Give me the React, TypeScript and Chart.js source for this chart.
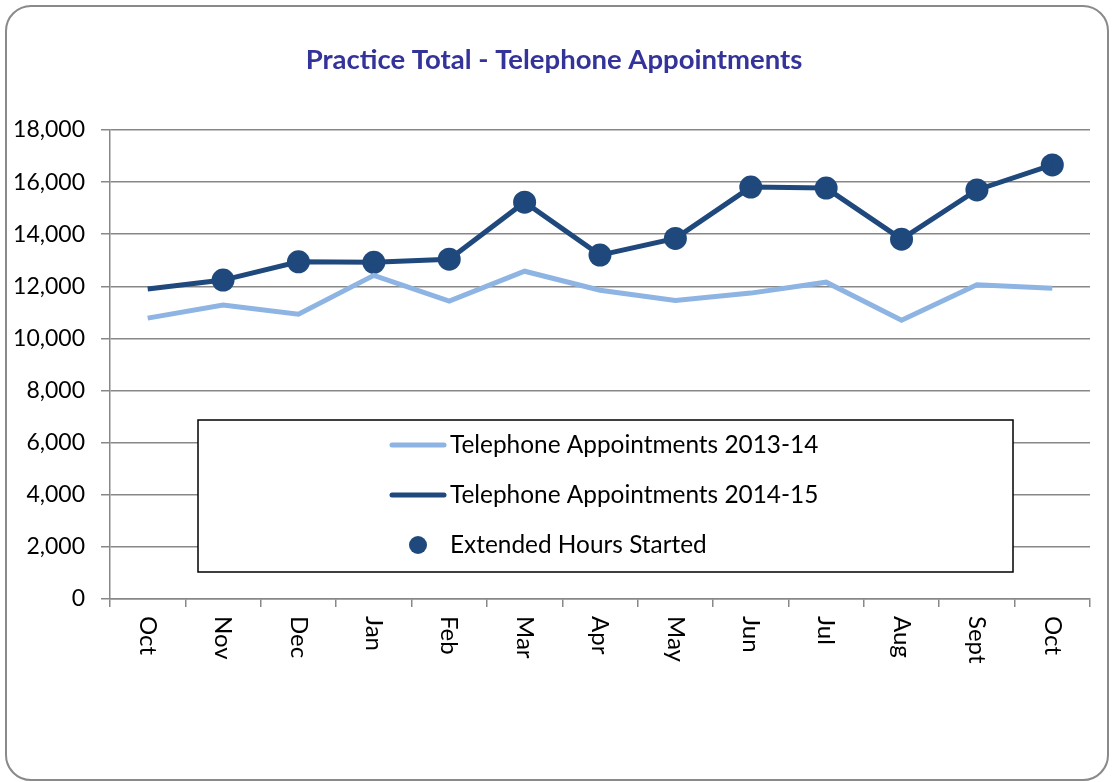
import React, { useEffect, useRef } from "react";
import { Chart, registerables } from "chart.js";

Chart.register(...registerables);

const chartTitle = "Practice Total - Telephone Appointments";
const categories = ["Oct", "Nov", "Dec", "Jan", "Feb", "Mar", "Apr", "May", "Jun", "Jul", "Aug", "Sept", "Oct"];
const appointments2013 = [10780, 11280, 10930, 12420, 11430, 12580, 11850, 11460, 11740, 12160, 10700, 12060, 11930];
const appointments2014 = [11900, 12240, 12940, 12920, 13040, 15230, 13200, 13840, 15810, 15770, 13810, 15700, 16660];
const extendedHours = [null, 12240, 12940, 12920, 13040, 15230, 13200, 13840, 15810, 15770, 13810, 15700, 16660];
const seriesNames = ["Telephone Appointments 2013-14", "Telephone Appointments 2014-15", "Extended Hours Started"];
const yMin = 0;
const yMax = 18000;
const yStep = 2000;

const LIGHT = "#8DB4E2";
const DARK = "#1F497D";
const GRID = "#888888";
const FONT = "Lato, 'Open Sans', sans-serif";

export default function App() {
  const canvasRef = useRef<HTMLCanvasElement | null>(null);

  useEffect(() => {
    const canvas = canvasRef.current;
    if (!canvas) return;

    const customDraw = {
      id: "customDraw",
      afterDraw(chart: any) {
        const ctx = chart.ctx as CanvasRenderingContext2D;
        ctx.save();
        // title
        ctx.font = `bold 27.5px ${FONT}`;
        ctx.fillStyle = "#333399";
        ctx.textAlign = "center";
        ctx.textBaseline = "middle";
        ctx.fillText(chartTitle, 554, 60);

        // x labels (rotated clockwise)
        const xs = chart.scales.x;
        ctx.font = `24px ${FONT}`;
        ctx.fillStyle = "#000";
        categories.forEach((c, i) => {
          const x = xs.getPixelForValue(i);
          ctx.save();
          ctx.translate(x, 616);
          ctx.rotate(Math.PI / 2);
          ctx.textAlign = "left";
          ctx.textBaseline = "middle";
          ctx.fillText(c, 0, 0);
          ctx.restore();
        });

        // legend box
        const lx = 198, ly = 420, lw = 815, lh = 152;
        ctx.fillStyle = "#fff";
        ctx.fillRect(lx, ly, lw, lh);
        ctx.strokeStyle = "#000";
        ctx.lineWidth = 1.5;
        ctx.strokeRect(lx, ly, lw, lh);

        const rows = [445, 495, 545];
        ctx.lineCap = "round";
        ctx.lineWidth = 5;
        ctx.strokeStyle = LIGHT;
        ctx.beginPath();
        ctx.moveTo(392, rows[0]);
        ctx.lineTo(444, rows[0]);
        ctx.stroke();
        ctx.strokeStyle = DARK;
        ctx.beginPath();
        ctx.moveTo(392, rows[1]);
        ctx.lineTo(444, rows[1]);
        ctx.stroke();
        ctx.fillStyle = DARK;
        ctx.beginPath();
        ctx.arc(418, rows[2], 9, 0, Math.PI * 2);
        ctx.fill();

        ctx.font = `24.4px ${FONT}`;
        ctx.fillStyle = "#000";
        ctx.textAlign = "left";
        ctx.textBaseline = "middle";
        seriesNames.forEach((n, i) => ctx.fillText(n, 450, rows[i]));
        ctx.restore();
      },
    };

    const chart = new Chart(canvas, {
      type: "line",
      data: {
        labels: categories,
        datasets: [
          {
            label: seriesNames[0],
            data: appointments2013,
            borderColor: LIGHT,
            backgroundColor: LIGHT,
            borderWidth: 5,
            pointRadius: 0,
            tension: 0,
          },
          {
            label: seriesNames[1],
            data: appointments2014,
            borderColor: DARK,
            backgroundColor: DARK,
            borderWidth: 5,
            pointRadius: 0,
            tension: 0,
          },
          {
            label: seriesNames[2],
            data: extendedHours as any,
            showLine: false,
            borderColor: DARK,
            backgroundColor: DARK,
            pointRadius: 11.5,
            pointBorderWidth: 0,
          },
        ],
      },
      options: {
        animation: false,
        responsive: false,
        devicePixelRatio: 1,
        layout: { padding: { top: 130, left: 0, right: 23, bottom: 0 } },
        plugins: {
          legend: { display: false },
          title: { display: false },
          tooltip: { enabled: false },
        },
        scales: {
          x: {
            type: "category",
            offset: true,
            afterFit(scale: any) {
              scale.height = 183;
            },
            grid: {
              offset: true,
              drawOnChartArea: false,
              drawTicks: true,
              tickLength: 8,
              color: GRID,
              lineWidth: 1.5,
            },
            border: { display: true, color: GRID, width: 1.5 },
            ticks: { display: false },
          },
          y: {
            min: yMin,
            max: yMax,
            afterFit(scale: any) {
              scale.width = 110;
            },
            ticks: {
              stepSize: yStep,
              padding: 16,
              color: "#000",
              font: { family: FONT, size: 23 },
              callback: (v: any) => Number(v).toLocaleString("en-US"),
            },
            grid: {
              color: GRID,
              lineWidth: 1.5,
              tickLength: 9,
              drawTicks: true,
            },
            border: { display: true, color: GRID, width: 1.5 },
          },
        },
      },
      plugins: [customDraw],
    });

    return () => chart.destroy();
  }, []);

  return (
    <div style={{ position: "fixed", left: 0, top: 0, width: 1113, height: 782, background: "#fff" }}>
      <div
        style={{
          position: "absolute",
          left: 5,
          top: 5,
          width: 1104,
          height: 776,
          boxSizing: "border-box",
          border: "2px solid #8a8a8a",
          borderRadius: 26,
        }}
      />
      <canvas
        ref={canvasRef}
        width={1113}
        height={782}
        style={{ position: "absolute", left: 0, top: 0, width: 1113, height: 782 }}
      />
    </div>
  );
}
